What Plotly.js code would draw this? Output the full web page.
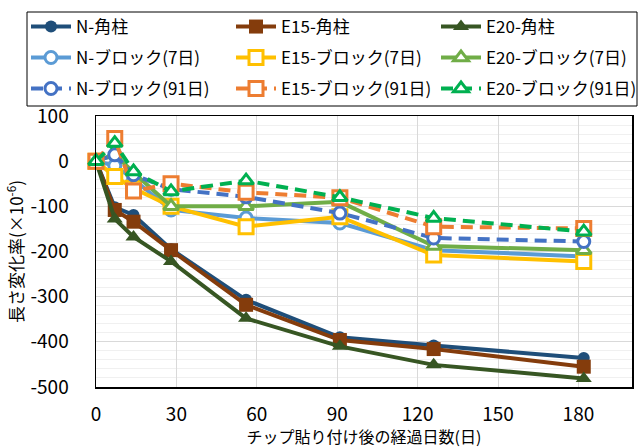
<!DOCTYPE html>
<html>
<head>
<meta charset="utf-8">
<script src="https://cdn.plot.ly/plotly-3.0.1.min.js"></script>
<style>html,body{margin:0;padding:0;background:#fff;}#chart{width:641px;height:448px;}</style>
</head>
<body>
<div id="chart"></div>
<script>
const days = [0, 7, 14, 28, 56, 91, 126, 182];
const seriesNames = ["N-角柱", "E15-角柱", "E20-角柱", "N-ブロック(7日)", "E15-ブロック(7日)", "E20-ブロック(7日)", "N-ブロック(91日)", "E15-ブロック(91日)", "E20-ブロック(91日)"];
const nColumn = [0, -102, -119, -195, -307, -390, -408, -436];
const e15Column = [0, -108, -134, -197, -318, -396, -416, -455];
const e20Column = [0, -128, -168, -222, -348, -410, -451, -481];
const nBlock7 = [0, -10, -40, -108, -126, -137, -197, -211];
const e15Block7 = [0, -34, -60, -100, -145, -123, -208, -222];
const e20Block7 = [0, 15, -25, -100, -100, -90, -188, -197];
const nBlock91 = [0, 14, -30, -62, -79, -115, -170, -178];
const e15Block91 = [0, 50, -66, -50, -69, -81, -145, -149];
const e20Block91 = [0, 40, -23, -67, -43, -80, -126, -156];
const xTicks = [0, 30, 60, 90, 120, 150, 180];
const yTicks = [100, 0, -100, -200, -300, -400, -500];

const values = [nColumn, e15Column, e20Column, nBlock7, e15Block7, e20Block7, nBlock91, e15Block91, e20Block91];
const colors = ["#1F4E79", "#843C0C", "#375623", "#5B9BD5", "#FFC000", "#70AD47", "#4472C4", "#ED7D31", "#00B050"];
const symbols = ["circle", "square", "triangle-up", "circle", "square", "triangle-up", "circle", "square", "triangle-up"];
const sizes = [12, 14, 14, 12, 14, 13, 12, 14, 13];
const legendIds = ["legend", "legend", "legend", "legend2", "legend2", "legend2", "legend3", "legend3", "legend3"];

const traces = values.map((v, i) => {
  const open = i >= 3;
  return {
    x: days, y: v, name: seriesNames[i], type: "scatter", mode: "lines+markers",
    legend: legendIds[i],
    line: {color: colors[i], width: 4, dash: i >= 6 ? "12px,7px" : "solid"},
    marker: {symbol: symbols[i], size: sizes[i], color: open ? "#ffffff" : colors[i],
             line: {color: colors[i], width: open ? 3 : 0}},
    cliponaxis: false
  };
});

const font = "'Noto Sans CJK JP', 'Noto Sans', sans-serif";
const W = 641, H = 448, L = 96, R = 9, T = 116, B = 61;
const pw = W - L - R, ph = H - T - B;
const px = x => (x - L) / pw;
const py = y => (H - B - y) / ph;

function legendAt(rowY) {
  return {
    orientation: "h", xref: "paper", yref: "paper",
    x: px(27), y: py(rowY), xanchor: "left", yanchor: "middle",
    borderwidth: 0, bgcolor: "rgba(0,0,0,0)",
    entrywidth: 150, entrywidthmode: "pixels", itemwidth: 40,
    font: {family: font, size: 17, color: "#000000"},
    traceorder: "normal"
  };
}

const layout = {
  width: W, height: H,
  margin: {l: L, r: R, t: T, b: B},
  paper_bgcolor: "#ffffff", plot_bgcolor: "#ffffff",
  font: {family: font, size: 17, color: "#000000"},
  showlegend: true,
  legend: legendAt(27),
  legend2: legendAt(58),
  legend3: legendAt(89),
  shapes: [{
    type: "rect", xref: "paper", yref: "paper",
    x0: px(27), x1: px(637), y0: py(106), y1: py(12),
    line: {color: "#000000", width: 1}, fillcolor: "rgba(0,0,0,0)", layer: "below"
  }],
  xaxis: {
    range: [0, 200], tickvals: xTicks, ticktext: xTicks.map(String),
    showgrid: true, gridcolor: "#d9d9d9", gridwidth: 1,
    zeroline: false, showline: true, linecolor: "#000000", linewidth: 1.5, mirror: true,
    ticks: "", tickfont: {size: 19}, ticklabelstandoff: 10,
    title: {text: "チップ貼り付け後の経過日数(日)", font: {size: 16}, standoff: 2}
  },
  yaxis: {
    range: [-500, 100], tickvals: yTicks, ticktext: yTicks.map(String),
    showgrid: true, gridcolor: "#d9d9d9", gridwidth: 1,
    minor: {dtick: 20, tick0: 0, showgrid: true, gridcolor: "#f0f0f0", gridwidth: 1, ticks: ""},
    zeroline: false, showline: true, linecolor: "#000000", linewidth: 1.5, mirror: true,
    ticks: "", tickfont: {size: 19}, ticklabelstandoff: 22,
    title: {text: "長さ変化率(×10<sup>-6</sup>)", font: {size: 17}, standoff: 2}
  }
};
Plotly.newPlot("chart", traces, layout, {displayModeBar: false, staticPlot: true});
</script>
</body>
</html>
